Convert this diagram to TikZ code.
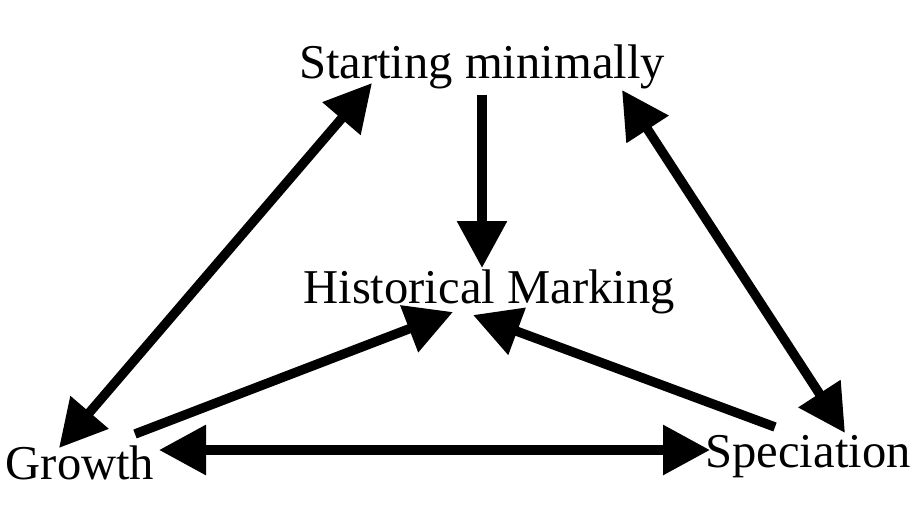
\documentclass[tikz,border=0pt]{standalone}
\usepackage{fontspec}
\setmainfont{Liberation Serif}
\usetikzlibrary{calc}
\usetikzlibrary{arrows.meta}
\tikzset{label/.style={inner sep=0pt, anchor=base, font=\fontsize{24.3}{24.3}\selectfont},
link/.style={line width=4.7pt, color=black},
>={Triangle[length=23.5pt,width=24pt]}}

\begin{document}
\begin{tikzpicture}[x=0.5pt,y=-0.5pt]
  \useasboundingbox (0,0) rectangle (924,518);
  \node (start) [label] at (482,79) {Starting minimally};
  \node (hist) [label] at (489,303) {Historical Marking};
  \node (grow) [label] at (80,479) {Growth};
  \node (spec) [label] at (808,467) {Speciation};
  \draw [link,<->] ($(grow.base)+(-21,-31)$) -- ($(start.base)+(-110,4)$);
  \draw [link,<->] ($(start.base)+(140,11)$) -- ($(spec.base)+(37,-34)$);
  \draw [link,<->] ($(grow.base)+(79,-29)$) -- ($(spec.base)+(-98,-17)$);
  \draw [link,->] ($(start.base)+(0,16)$) -- ($(hist.base)+(-7,-35)$);
  \draw [link,->] ($(grow.base)+(55,-45)$) -- ($(hist.base)+(-36,9)$);
  \draw [link,->] ($(spec.base)+(-33,-40)$) -- ($(hist.base)+(-16,12)$);
\end{tikzpicture}
\end{document}
